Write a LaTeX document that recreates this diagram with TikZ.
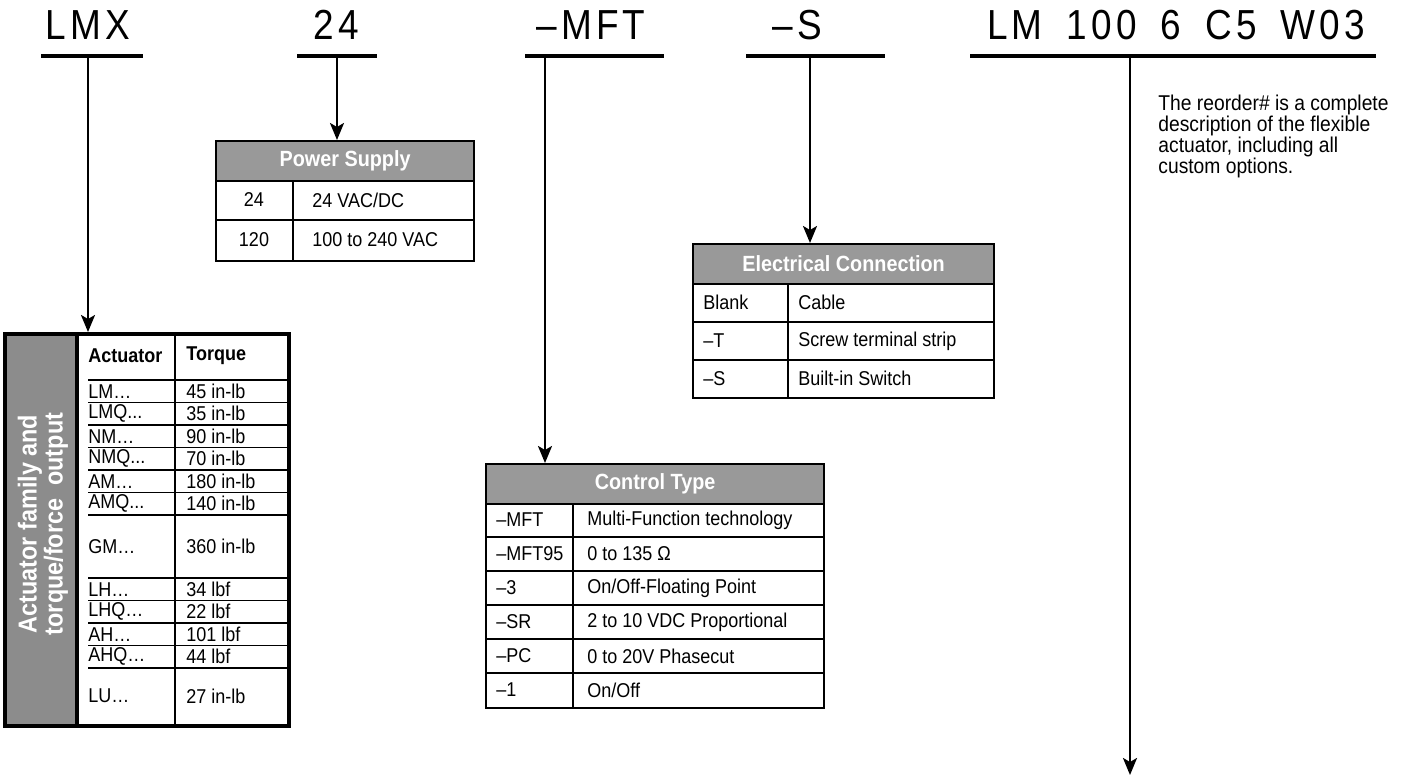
\documentclass[tikz,border=0pt]{standalone}
\usepackage{fontspec}
\setmainfont{Liberation Sans}[FakeStretch=0.9]
\newfontfamily\codefont{Liberation Sans}[FakeStretch=0.88,LetterSpace=10]
\usetikzlibrary{arrows.meta}

\definecolor{headgray}{RGB}{153,153,153}
\definecolor{sidegray}{RGB}{140,140,140}

% three plain dots (keeps \foreach from reading a range)
\newcommand{\plaindots}{...}
% wide gap between the groups of the reorder number
\newcommand{\codegap}{\hspace{12pt}}

\tikzset{
  code/.style={font=\codefont\fontsize{21}{24}\selectfont, inner sep=0pt},
  bar/.style={line width=1.6pt},
  feed/.style={line width=1.2pt, -{Stealth[length=8.5pt,width=7pt,inset=2pt]}},
  tabframe/.style={draw, line width=1.1pt, inner sep=0pt, anchor=north west},
  rule/.style={line width=0.9pt},
  tabhead/.style={draw, line width=1.1pt, fill=headgray, text=white,
    font=\bfseries\fontsize{11}{13}\selectfont, inner sep=0pt,
    anchor=north west, minimum height=20pt},
  cell/.style={font=\fontsize{10}{12}\selectfont, inner sep=0pt, anchor=west},
}

\begin{document}
\begin{tikzpicture}[x=0.5pt,y=0.5pt,yscale=-1]
\useasboundingbox (0,0) rectangle (1419,777);

% ordering code
\node[code] (lmx) at (88,25) {LMX};
\node[code] (volt) at (336,25) {24};
\node[code] (ctl) at (591,25) {–MFT};
\node[code] (sw) at (797,25) {–S};
\node[code] (reord) at (1176,25) {LM\codegap 100\codegap 6\codegap C5\codegap W03};

% bars under the code groups
\draw[bar] (41,56) -- (143,56);
\draw[bar] (297,56) -- (377,56);
\draw[bar] (525,56) -- (664,56);
\draw[bar] (746,56) -- (885,56);
\draw[bar] (970,56) -- (1376,56);
\coordinate (lmx-b) at (88,56);
\coordinate (volt-b) at (337,56);
\coordinate (ctl-b) at (545,56);
\coordinate (sw-b) at (810,56);
\coordinate (reord-b) at (1130,56);
\coordinate (reord-end) at (1130,775);

% Power Supply
\node[tabframe, minimum width=129pt, minimum height=60pt] (ps) at (215,140) {};
\node[tabhead, minimum width=129pt] (ps-h) at (215,140) {Power Supply};
\draw[rule] (215,220) -- (473,220);
\draw[rule] (293,180) -- (293,260);
\node[cell, anchor=center] (ps-a1) at (254,200) {24};
\node[cell] (ps-b1) at (312,200) {24 VAC/DC};
\node[cell, anchor=center] (ps-a2) at (254,240) {120};
\node[cell] (ps-b2) at (312,240) {100 to 240 VAC};

% Electrical Connection
\node[tabframe, minimum width=150.5pt, minimum height=77pt] (ec) at (692,243) {};
\node[tabhead, minimum width=150.5pt] (ec-h) at (692,243) {Electrical Connection};
\draw[rule] (692,322) -- (993,322);
\draw[rule] (692,360) -- (993,360);
\draw[rule] (788,283) -- (788,397);
\node[cell] (ec-a1) at (703,302.5) {Blank};
\node[cell] (ec-b1) at (798,302.5) {Cable};
\node[cell] (ec-a2) at (703,341) {–T};
\node[cell] (ec-b2) at (798,341) {Screw terminal strip};
\node[cell] (ec-a3) at (703,378.5) {–S};
\node[cell] (ec-b3) at (798,378.5) {Built-in Switch};

% Control Type
\node[tabframe, minimum width=169pt, minimum height=122pt] (ct) at (485,463) {};
\node[tabhead, minimum width=169pt] (ct-h) at (485,463) {Control Type};
\foreach \y in {537,571,605,639,673}
  \draw[rule] (485,\y) -- (823,\y);
\draw[rule] (573,503) -- (573,707);
\foreach \y/\key/\txt [count=\i] in {520/–MFT/Multi-Function technology,
    554/–MFT95/0 to 135 \symbol{"03A9},
    588/–3/On\slash Off-Floating Point,
    622/–SR/2 to 10 VDC Proportional,
    656/–PC/0 to 20V Phasecut,
    690/–1/On\slash Off} {
  \node[cell] (ct-a\i) at (496,\y) {\key};
  \node[cell] (ct-b\i) at (587,\y) {\txt};
}

% Actuator family
\fill[sidegray] (3,332) rectangle (77,724);
\node[tabframe, line width=1.8pt, minimum width=142pt, minimum height=196pt] (act) at (3,332) {};
\draw[line width=2.2pt] (77,332) -- (77,724);
\draw[line width=1.3pt] (175,332) -- (175,724);
\node[rotate=90, text=white, align=center, inner sep=0pt,
  font=\bfseries\fontsize{13}{13}\selectfont] (act-side) at (43,524)
  {Actuator family and\\torque/force~ output};
\node[cell, font=\bfseries\fontsize{10}{12}\selectfont] (act-h1) at (88,356) {Actuator};
\node[cell, font=\bfseries\fontsize{10}{12}\selectfont] (act-h2) at (186,356) {Torque};
\foreach \y in {380,402.5,425,447.5,470,492.5,515,578,600.5,623,645.5,668}
  \draw[rule] (88,\y) -- (287,\y);
\foreach \y/\fam/\val [count=\i] in {391.25/LM…/45 in-lb, 413.75/LMQ\plaindots/35 in-lb,
    436.25/NM…/90 in-lb, 458.75/NMQ\plaindots/70 in-lb, 481.25/AM…/180 in-lb,
    503.75/AMQ\plaindots/140 in-lb, 546.5/GM…/360 in-lb, 589.25/LH…/34 lbf,
    611.75/LHQ…/22 lbf, 634.25/AH…/101 lbf, 656.75/AHQ…/44 lbf,
    696/LU…/27 in-lb} {
  \node[cell] (act-f\i) at (88,\y) {\fam};
  \node[cell] (act-v\i) at (186,\y) {\val};
}

% reorder note
\node[anchor=north west, align=left, inner sep=0pt,
  font=\fontsize{10.7}{10.5}\selectfont] (note) at (1158,95)
  {The reorder\# is a complete\\description of the flexible\\actuator, including all\\custom options.};

% feeds from the code down to the tables
\draw[feed] (lmx-b) -- (lmx-b |- act.north);
\draw[feed] (volt-b) -- (volt-b |- ps.north);
\draw[feed] (ctl-b) -- (ctl-b |- ct.north);
\draw[feed] (sw-b) -- (sw-b |- ec.north);
\draw[feed] (reord-b) -- (reord-end);

\end{tikzpicture}
\end{document}
